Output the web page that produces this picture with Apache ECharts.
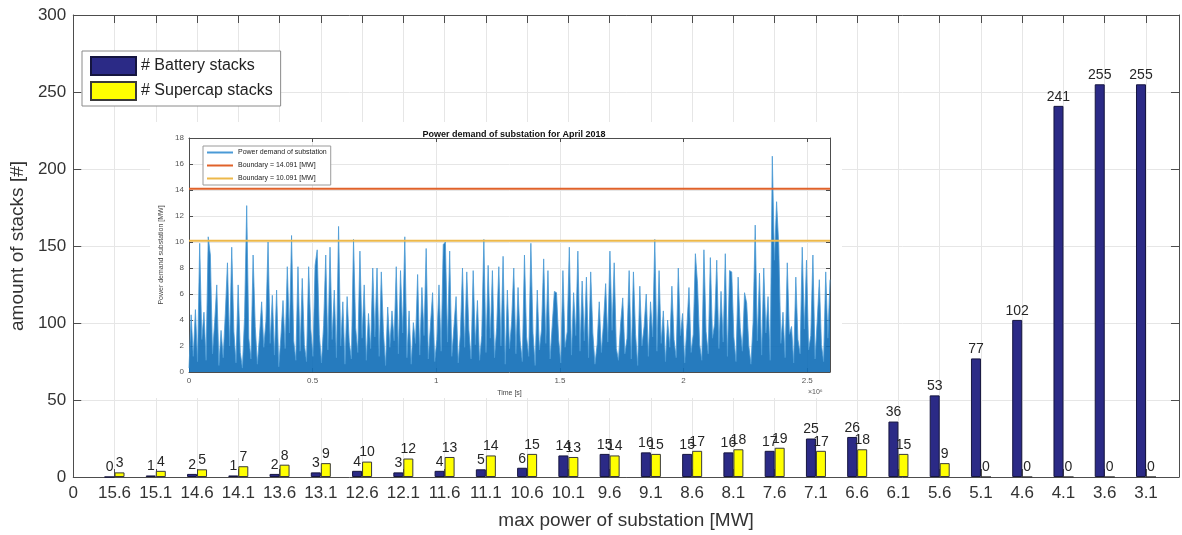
<!DOCTYPE html>
<html>
<head>
<meta charset="utf-8">
<title>Battery and supercap stacks per substation power</title>
<script src="https://cdn.jsdelivr.net/npm/echarts@6/dist/echarts.min.js"></script>
<style>
html, body { margin: 0; padding: 0; background: #fff; }
#chart { width: 1182px; height: 535px; }
</style>
</head>
<body>
<div id="chart"></div>
<script>
// tick labels of the main x axis (position 0 is just the origin)
const powerLabels = ['0', '15.6', '15.1', '14.6', '14.1', '13.6', '13.1', '12.6', '12.1', '11.6', '11.1',
  '10.6', '10.1', '9.6', '9.1', '8.6', '8.1', '7.6', '7.1', '6.6', '6.1', '5.6', '5.1', '4.6', '4.1', '3.6', '3.1']
const batteryStacks = [0, 1, 2, 1, 2, 3, 4, 3, 4, 5, 6, 14, 15, 16, 15, 16, 17, 25, 26, 36, 53, 77, 102, 241, 255, 255]
const supercapStacks = [3, 4, 5, 7, 8, 9, 10, 12, 13, 14, 15, 13, 14, 15, 17, 18, 19, 17, 18, 15, 9, 0, 0, 0, 0, 0]

// inset: power demand of the substation, April 2018 (one value per 8640 s)
const monthSeconds = 2592000
const demandStep = 8640
const demand = [
  0.3, 4.4, 1.2, 4.8, 0.8, 9.9, 2.5, 4.6, 0.9, 10.4, 9.0, 1.4, 3.8, 6.7, 0.5, 3.2, 1.1, 4.5, 8.4, 2.0,
  9.6, 3.1, 0.7, 6.7, 1.5, 0.3, 4.2, 12.8, 2.6, 1.0, 9.0, 3.5, 0.6, 2.8, 5.4, 1.9, 3.9, 10.0, 2.2, 5.9,
  1.3, 6.3, 0.4, 2.7, 5.5, 1.8, 8.1, 3.0, 10.5, 2.4, 0.9, 8.1, 1.6, 7.2, 2.1, 0.8, 8.1, 3.3, 1.2, 8.2,
  9.4, 2.9, 0.7, 3.6, 9.0, 1.7, 9.6, 2.5, 6.3, 1.1, 11.2, 2.0, 5.4, 0.6, 5.8, 2.3, 1.0, 10.2, 3.4, 1.5,
  9.3, 2.6, 6.7, 0.9, 4.5, 1.8, 8.0, 2.7, 8.0, 1.2, 7.7, 3.1, 0.5, 5.0, 1.9, 4.7, 2.4, 8.1, 1.4, 7.8,
  3.0, 10.4, 1.1, 4.7, 0.6, 3.8, 2.2, 7.5, 1.3, 6.5, 2.8, 9.5, 1.0, 3.6, 6.1, 0.8, 2.5, 6.7, 1.6, 9.8,
  10.0, 2.3, 9.3, 1.2, 3.5, 5.8, 0.7, 2.9, 8.0, 1.9, 7.7, 3.2, 1.0, 7.8, 2.1, 5.5, 0.9, 2.8, 10.2, 1.5,
  8.2, 2.6, 7.8, 1.1, 3.4, 8.1, 2.0, 8.9, 0.6, 6.3, 1.8, 3.9, 8.0, 1.4, 6.5, 2.4, 0.8, 9.0, 2.7, 1.2,
  9.9, 3.0, 0.5, 6.3, 1.7, 3.3, 8.7, 2.2, 7.8, 1.0, 3.6, 6.2, 6.1, 2.5, 0.7, 7.8, 1.9, 3.1, 9.6, 1.3,
  6.1, 2.8, 9.3, 1.6, 7.0, 2.4, 7.3, 1.1, 7.7, 3.0, 0.6, 2.1, 5.4, 1.5, 3.8, 6.8, 2.3, 9.3, 3.2, 8.4,
  1.8, 0.9, 3.7, 5.7, 1.4, 2.6, 7.8, 1.0, 7.7, 2.9, 0.5, 6.6, 2.0, 3.5, 6.0, 1.2, 5.4, 2.7, 10.2, 1.6,
  7.8, 2.2, 4.7, 0.8, 4.0, 1.9, 6.6, 2.5, 1.1, 8.0, 2.8, 4.5, 0.7, 3.4, 6.5, 1.5, 2.9, 9.1, 6.8, 2.1,
  0.9, 9.4, 3.1, 1.4, 8.8, 2.6, 3.7, 8.6, 1.8, 6.2, 2.3, 9.1, 1.2, 7.8, 7.7, 2.7, 0.8, 7.3, 3.4, 1.6,
  6.1, 5.3, 2.0, 0.6, 3.8, 11.3, 2.4, 7.6, 1.3, 8.0, 3.0, 5.8, 0.9, 16.6, 8.6, 13.1, 9.8, 2.2, 4.6, 1.1,
  8.4, 2.9, 3.5, 0.7, 7.3, 2.5, 1.4, 9.6, 3.3, 8.6, 1.7, 2.8, 9.0, 1.0, 3.9, 7.1, 2.1, 0.8, 7.7, 2.6,
  7.1
]
const boundaryHigh = 14.091
const boundaryLow = 10.091

const chart = echarts.init(document.getElementById('chart'))
const font = 'Liberation Sans, Arial, Helvetica, sans-serif'
const axisGrey = '#4d4d4d'
const gridGrey = '#e6e6e6'

// box axes (top / right) without labels, only ticks pointing inwards
function boxAxis(gridIndex, pos, extra) {
  return Object.assign({
    gridIndex: gridIndex,
    position: pos,
    type: 'value',
    axisLine: { show: true, onZero: false, lineStyle: { color: axisGrey, width: 1 } },
    axisTick: { show: true, inside: true, length: gridIndex === 0 ? 8 : 4, lineStyle: { color: axisGrey } },
    axisLabel: { show: false },
    splitLine: { show: false }
  }, extra)
}

const option = {
  animation: false,
  backgroundColor: '#fff',
  textStyle: { fontFamily: font },
  title: {
    text: 'Power demand of substation for April 2018',
    left: 509,
    top: 125,
    textAlign: 'center',
    textStyle: { fontSize: 9, fontWeight: 'bold', color: '#111', fontFamily: font },
    z: 12
  },
  grid: [
    { left: 72, right: 2, top: 15, bottom: 51 },
    { left: 189, top: 138, width: 641, height: 234 }
  ],
  graphic: [
    {
      type: 'rect',
      shape: { x: 150, y: 122, width: 692, height: 276 },
      style: { fill: '#fff' },
      z: 5
    },
    {
      type: 'text',
      x: 808,
      y: 389,
      style: { text: '×10⁶', fontSize: 7, fill: '#555', fontFamily: font },
      z: 12
    }
  ],
  legend: [
    {
      data: ['# Battery stacks', '# Supercap stacks'],
      orient: 'vertical',
      left: 82,
      top: 51,
      icon: 'rect',
      itemWidth: 45,
      itemHeight: 18,
      itemGap: 5,
      padding: [5, 8, 5, 8],
      borderColor: '#8a8a8a',
      borderWidth: 1,
      backgroundColor: '#fff',
      textStyle: { fontSize: 16, color: '#222', fontFamily: font },
      z: 12
    },
    {
      data: ['Power demand of substation', 'Boundary = 14.091 [MW]', 'Boundary = 10.091 [MW]'],
      orient: 'vertical',
      left: 203,
      top: 146,
      icon: 'rect',
      itemWidth: 26,
      itemHeight: 2,
      itemGap: 6,
      padding: [3, 4, 3, 4],
      borderColor: '#9a9a9a',
      borderWidth: 1,
      backgroundColor: '#fff',
      textStyle: { fontSize: 7, color: '#222', fontFamily: font },
      z: 12
    }
  ],
  xAxis: [
    {
      gridIndex: 0,
      type: 'value',
      position: 'bottom',
      min: 0,
      max: 26.8,
      interval: 1,
      name: 'max power of substation [MW]',
      nameLocation: 'middle',
      nameGap: 34,
      nameTextStyle: { fontSize: 19, color: '#333' },
      axisLine: { show: true, onZero: false, lineStyle: { color: axisGrey } },
      axisTick: { show: true, inside: true, length: 8, lineStyle: { color: axisGrey } },
      axisLabel: {
        fontSize: 17,
        color: '#333',
        margin: 8,
        formatter: v => Number.isInteger(v) ? powerLabels[v] : ''
      },
      splitLine: { show: true, lineStyle: { color: gridGrey } }
    },
    boxAxis(0, 'top', { min: 0, max: 26.8, interval: 1 }),
    {
      gridIndex: 1,
      type: 'value',
      min: 0,
      max: monthSeconds,
      interval: 500000,
      name: 'Time [s]',
      nameLocation: 'middle',
      nameGap: 18,
      nameTextStyle: { fontSize: 7, color: '#444' },
      axisLine: { show: true, onZero: false, lineStyle: { color: axisGrey } },
      axisTick: { show: true, inside: true, length: 4, lineStyle: { color: axisGrey } },
      axisLabel: {
        fontSize: 8,
        color: '#555',
        margin: 5,
        formatter: v => v % 500000 === 0 ? String(v / 1000000) : ''
      },
      splitLine: { show: true, lineStyle: { color: gridGrey } },
      z: 10
    },
    boxAxis(1, 'top', { min: 0, max: monthSeconds, interval: 500000, z: 10 })
  ],
  yAxis: [
    {
      gridIndex: 0,
      type: 'value',
      min: 0,
      max: 300,
      interval: 50,
      name: 'amount of stacks [#]',
      nameLocation: 'middle',
      nameGap: 45,
      nameTextStyle: { fontSize: 19, color: '#333' },
      axisLine: { show: true, lineStyle: { color: axisGrey } },
      axisTick: { show: true, inside: true, length: 8, lineStyle: { color: axisGrey } },
      axisLabel: { fontSize: 17, color: '#333', margin: 7 },
      splitLine: { show: true, lineStyle: { color: gridGrey } }
    },
    boxAxis(0, 'right', { min: 0, max: 300, interval: 50 }),
    {
      gridIndex: 1,
      type: 'value',
      min: 0,
      max: 18,
      interval: 2,
      name: 'Power demand substation [MW]',
      nameLocation: 'middle',
      nameGap: 17,
      nameTextStyle: { fontSize: 7, color: '#444' },
      axisLine: { show: true, lineStyle: { color: axisGrey } },
      axisTick: { show: true, inside: true, length: 4, lineStyle: { color: axisGrey } },
      axisLabel: { fontSize: 8, color: '#555', margin: 5 },
      splitLine: { show: true, lineStyle: { color: gridGrey } },
      z: 10
    },
    boxAxis(1, 'right', { min: 0, max: 18, interval: 2, z: 10 })
  ],
  series: [
    {
      name: '# Battery stacks',
      type: 'bar',
      xAxisIndex: 0,
      yAxisIndex: 0,
      barWidth: 10,
      barGap: '0%',
      data: batteryStacks.map((v, i) => [i + 1, v]),
      itemStyle: { color: '#2b2a86', borderColor: '#15153f', borderWidth: 1 },
      label: { show: true, position: 'top', distance: 2, fontSize: 14, color: '#262626', formatter: p => p.value[1] }
    },
    {
      name: '# Supercap stacks',
      type: 'bar',
      xAxisIndex: 0,
      yAxisIndex: 0,
      barWidth: 10,
      barGap: '0%',
      data: supercapStacks.map((v, i) => [i + 1, v]),
      itemStyle: { color: '#ffff00', borderColor: '#3a3a3a', borderWidth: 1 },
      label: { show: true, position: 'top', distance: 2, fontSize: 14, color: '#262626', formatter: p => p.value[1] }
    },
    {
      name: 'Power demand of substation',
      type: 'line',
      xAxisIndex: 2,
      yAxisIndex: 2,
      symbol: 'none',
      data: demand.map((v, i) => [i * demandStep, v]),
      lineStyle: { color: '#4a9ad6', width: 0.8 },
      itemStyle: { color: '#4a9ad6' },
      areaStyle: { color: '#1470b9', opacity: 0.92 },
      z: 11
    },
    {
      name: 'Boundary = 14.091 [MW]',
      type: 'line',
      xAxisIndex: 2,
      yAxisIndex: 2,
      symbol: 'none',
      data: [[0, boundaryHigh], [monthSeconds, boundaryHigh]],
      lineStyle: { color: '#e0622a', width: 2 },
      itemStyle: { color: '#e0622a' },
      z: 11
    },
    {
      name: 'Boundary = 10.091 [MW]',
      type: 'line',
      xAxisIndex: 2,
      yAxisIndex: 2,
      symbol: 'none',
      data: [[0, boundaryLow], [monthSeconds, boundaryLow]],
      lineStyle: { color: '#edb84a', width: 2 },
      itemStyle: { color: '#edb84a' },
      z: 11
    }
  ]
}

chart.setOption(option)
</script>
</body>
</html>
